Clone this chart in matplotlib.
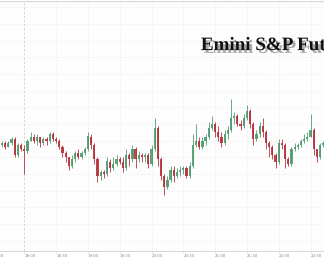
import numpy as np
import matplotlib
matplotlib.use("Agg")
import matplotlib.pyplot as plt
import matplotlib.patheffects as pe
import matplotlib.transforms as mtrans

# 3-minute candles, time in minutes relative to 18:00
start_min = -24
step_min = 3

open0 = 2797.75
close = [2797.5, 2797.75, 2797.25, 2797.75, 2798.25, 2796.25, 2797.5, 2797, 2796.75, 2798,
         2798.5, 2798, 2798.5, 2797.75, 2798.25, 2798, 2798.75, 2798.25, 2798, 2797.25,
         2796.5, 2796, 2795, 2795.75, 2796.5, 2796, 2796.5, 2797, 2798.5, 2797.5,
         2795.75, 2793.75, 2794.25, 2794, 2795.5, 2794.75, 2795.25, 2795.75, 2795.5, 2794.75,
         2796.25, 2795.75, 2797, 2795.75, 2796.25, 2796, 2796.25, 2795.25, 2797, 2799.5,
         2795.75, 2793.75, 2792.5, 2793.25, 2794.5, 2793.75, 2794.25, 2794.5, 2794.75, 2793.75,
         2795, 2797.5, 2798, 2797.25, 2798, 2798.5, 2799.5, 2800, 2799, 2798.5,
         2797.75, 2798.75, 2799.25, 2800.75, 2801, 2800, 2799.75, 2800.75, 2801.5, 2800,
         2798.25, 2798.75, 2799.75, 2799, 2797.75, 2797.25, 2796.25, 2795.5, 2797.75, 2797.5,
         2795.75, 2795.25, 2797, 2797.25, 2797.5, 2798, 2798.25, 2798.5, 2799.25, 2797,
         2796, 2797.5, 2797.75]
high = [2798, 2798, 2798, 2798, 2798.5, 2798.5, 2797.75, 2797.75, 2797.5, 2798.25,
        2799, 2798.75, 2798.75, 2798.5, 2798.5, 2798.5, 2799, 2799, 2798.5, 2798.25,
        2797.5, 2796.75, 2796, 2796.25, 2796.75, 2797, 2796.75, 2797.25, 2799, 2798.75,
        2797.75, 2796, 2794.5, 2794.5, 2796, 2795.75, 2796, 2796.25, 2796, 2796,
        2797, 2796.5, 2797.5, 2797.25, 2796.75, 2796.5, 2796.5, 2796.5, 2797.5, 2800.75,
        2799.75, 2796, 2794, 2793.75, 2795, 2795, 2794.75, 2795, 2795, 2795,
        2795.5, 2798.75, 2800, 2798.5, 2798.5, 2798.75, 2800.25, 2801, 2800.25, 2799.75,
        2799, 2799.25, 2799.75, 2803, 2801.5, 2801.25, 2800.5, 2801.25, 2802.25, 2801.75,
        2800.25, 2799.25, 2800.25, 2800.75, 2799.25, 2798, 2797.5, 2796.5, 2798.25, 2798.25,
        2797.75, 2796, 2797.25, 2797.75, 2797.75, 2798.25, 2798.75, 2799, 2801.25, 2799.5,
        2797, 2797.75, 2798]
low = [2797.25, 2797.25, 2797, 2797.25, 2797.5, 2796, 2796, 2796.75, 2794, 2796.5,
       2798, 2797.75, 2797.5, 2797.25, 2797.5, 2797.5, 2797.75, 2798, 2797.75, 2797,
       2796, 2795.5, 2794.5, 2794.75, 2795.5, 2795.75, 2795.75, 2796.25, 2796.75, 2797,
       2795.25, 2793, 2793.25, 2793.5, 2793.75, 2794.25, 2794.5, 2795, 2795.25, 2794.25,
       2794.5, 2795, 2795.5, 2794.75, 2795.5, 2795.5, 2795.5, 2794.75, 2795, 2796.75,
       2795, 2793.25, 2791.5, 2792.25, 2793, 2793, 2793.5, 2793.75, 2794, 2793.5,
       2793.5, 2794.75, 2797.25, 2797, 2797, 2797.5, 2798.25, 2799.25, 2798.5, 2798,
       2797.25, 2797.5, 2798.25, 2799, 2800, 2799.75, 2799.25, 2799.5, 2800.5, 2799.5,
       2797.5, 2798, 2798.5, 2798.5, 2797, 2796, 2795.75, 2794.75, 2795.25, 2797,
       2794.75, 2795, 2795, 2796.75, 2797, 2797.25, 2797.75, 2798, 2798.5, 2796.25,
       2795.5, 2795.75, 2797.25]

tick_mins = [0, 30, 60, 90, 120, 150, 180, 210, 240, 270]
tick_labels = ["18:00", "18:30", "19:00", "19:30", "20:00",
               "20:30", "21:00", "21:30", "22:00", "22:30"]
cut_tick_min = -30
cut_tick_label = "17:30"
title = "Emini S&P Futures"

close = np.array(close)
high = np.array(high)
low = np.array(low)
opens = np.concatenate([[open0], close[:-1]])
t = start_min + step_min * np.arange(len(close))

up_col = "#4e9a70"
dn_col = "#b5303a"
cols = np.where(close >= opens, up_col, dn_col)

fig = plt.figure(figsize=(3.24, 2.58), dpi=100, facecolor="white")
ax = fig.add_axes([0, 7 / 258, 1, 250.5 / 258])
ax.set_facecolor("#fdfdfd")

# grid
for y in np.arange(2786, 2815, 2):
    ax.axhline(y, color="#e2e2e2", lw=0.5, ls=(0, (1, 2)), zorder=0)
for m in tick_mins:
    if m == 0:
        ax.axvline(m, color="#d0d0d0", lw=0.6, ls=(0, (3, 2)), zorder=0)
    else:
        ax.axvline(m, color="#e2e2e2", lw=0.5, ls=(0, (1, 2)), zorder=0)

# candles
wick_lo = np.minimum(low, np.minimum(opens, close))
wick_hi = np.maximum(high, np.maximum(opens, close))
ax.vlines(t, wick_lo, wick_hi, colors=cols, lw=0.7, alpha=0.85, zorder=2)
ax.bar(t, np.abs(close - opens), bottom=np.minimum(opens, close), width=2.1,
       color=cols, alpha=0.9, zorder=3, linewidth=0)

for s in ["left", "right"]:
    ax.spines[s].set_visible(False)
ax.spines["top"].set_color("#d8d8d8")
ax.spines["top"].set_linewidth(0.8)
ax.spines["bottom"].set_color("#cfcfcf")
ax.spines["bottom"].set_linewidth(0.6)

ax.set_yticks([])
ax.set_xticks(tick_mins)
ax.set_xticklabels(tick_labels, fontsize=2.8, color="#8a8a8a", ha="left")
ax.tick_params(axis="x", length=1.5, width=0.4, color="#cfcfcf", pad=0.6)

# visible window: roughly 17:37 to 22:43 (set after ticks so it is not expanded)
ax.set_xlim(-22.9, 282.7)
ax.set_ylim(2784.76, 2814.82)

# the 17:30 label sits just off the left edge, only its tail shows
trans = mtrans.blended_transform_factory(ax.transData, ax.transAxes)
ax.text(cut_tick_min, -0.0116, cut_tick_label, transform=trans, fontsize=2.8,
        color="#8a8a8a", ha="left", va="top", clip_on=False)

ax.text(0.62, 0.802, title, transform=ax.transAxes, fontsize=13.7, fontweight="bold",
        family="Liberation Serif", color="#111111", ha="left", va="baseline",
        path_effects=[pe.withSimplePatchShadow(offset=(2, -2), shadow_rgbFace="#666666", alpha=0.55)])

fig.savefig("out.png", dpi=100, facecolor=fig.get_facecolor())
